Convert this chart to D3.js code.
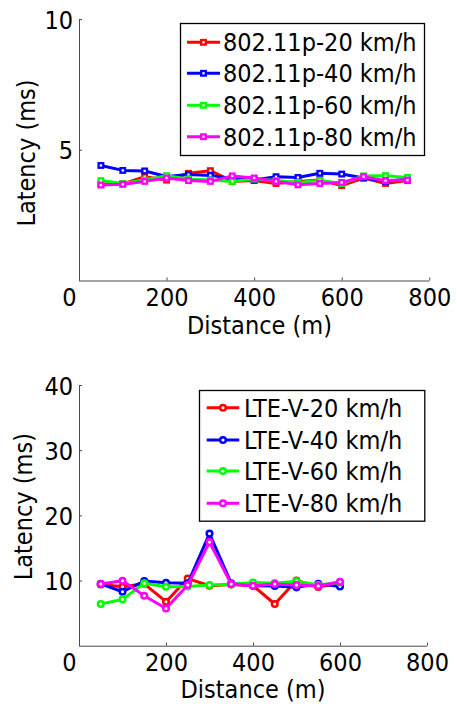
<!DOCTYPE html>
<html>
<head>
<meta charset="utf-8">
<script src="https://cdn.jsdelivr.net/npm/d3@7"></script>
<style>
  html, body { margin: 0; padding: 0; background: #fff; }
  svg text { font-family: "DejaVu Sans Condensed", "DejaVu Sans", sans-serif; font-stretch: condensed; fill: #000; }
</style>
</head>
<body>
<svg id="fig" width="457" height="704"></svg>
<script>
// ---- 802.11p latency vs distance ----
const distP = [50, 100, 150, 200, 250, 300, 350, 400, 450, 500, 550, 600, 650, 700, 750];
const p11_20 = [3.69, 3.69, 3.97, 3.84, 4.10, 4.20, 3.79, 3.82, 3.71, 3.79, 3.84, 3.63, 3.92, 3.71, 3.82];
const p11_40 = [4.40, 4.21, 4.19, 3.98, 4.05, 4.02, 3.90, 3.84, 3.97, 3.94, 4.10, 4.07, 3.92, 3.79, 3.88];
const p11_60 = [3.82, 3.71, 3.84, 4.01, 3.88, 3.84, 3.79, 3.88, 3.82, 3.75, 3.82, 3.71, 4.00, 4.01, 3.94];
const p11_80 = [3.65, 3.68, 3.79, 3.92, 3.82, 3.79, 4.00, 3.92, 3.79, 3.66, 3.71, 3.75, 3.97, 3.82, 3.84];
const labelsP = ["802.11p-20 km/h", "802.11p-40 km/h", "802.11p-60 km/h", "802.11p-80 km/h"];

// ---- LTE-V latency vs distance ----
const distL = [50, 100, 150, 200, 250, 300, 350, 400, 450, 500, 550, 600];
const lte_20 = [9.4, 9.05, 9.5, 6.75, 10.3, 9.2, 9.4, 9.2, 6.4, 10.0, 9.0, 9.6];
const lte_40 = [9.5, 8.28, 9.92, 9.67, 9.57, 17.2, 9.57, 9.2, 9.15, 8.95, 9.5, 9.1];
const lte_60 = [6.4, 7.11, 9.57, 9.05, 9.1, 9.3, 9.4, 9.7, 9.6, 9.9, 9.3, 9.7];
const lte_80 = [9.46, 9.97, 7.67, 5.7, 9.31, 15.9, 9.46, 9.2, 9.46, 9.3, 9.15, 9.82];
const labelsL = ["LTE-V-20 km/h", "LTE-V-40 km/h", "LTE-V-60 km/h", "LTE-V-80 km/h"];

// ---- shared axis ticks ----
const xTicks = [0, 200, 400, 600, 800];
const yTicksP = [5, 10];
const yTicksL = [10, 20, 30, 40];
const seriesColors = ["#ff0000", "#0000ff", "#00ff00", "#ff00ff"];

const svg = d3.select("#fig");
const FONT = 25;

function panel(opt) {
  const g = svg.append("g");
  const x = d3.scaleLinear().domain([0, 800]).range([opt.left, opt.right]);
  const y = d3.scaleLinear().domain(opt.yDomain).range([opt.bottom, opt.top]);

  // axes (ticks pointing inward, no box)
  const xAxis = g.append("g").attr("transform", `translate(0,${opt.bottom})`)
    .call(d3.axisBottom(x).tickValues(xTicks).tickSize(-3).tickPadding(8).tickFormat(d3.format("d")));
  const yAxis = g.append("g").attr("transform", `translate(${opt.left},0)`)
    .call(d3.axisLeft(y).tickValues(opt.yTicks).tickSize(-3).tickPadding(6).tickFormat(d3.format("d")));
  [xAxis, yAxis].forEach(a => {
    a.select(".domain").attr("stroke", "#4a4a4a").attr("stroke-width", 1);
    a.selectAll(".tick line").attr("stroke", "#4a4a4a");
    a.selectAll(".tick text").attr("font-size", FONT).attr("fill", "#000")
      .style("font-family", '"DejaVu Sans Condensed", "DejaVu Sans", sans-serif');
  });
  // plain axis lines without end caps
  xAxis.select(".domain").attr("d", `M${opt.left},0.5H${opt.right}`);
  yAxis.select(".domain").attr("d", `M0.5,${opt.top}V${opt.bottom}`);
  xAxis.selectAll(".tick text").attr("dy", "0.71em")
    .attr("dx", d => d === 0 ? -10 : 0);
  yAxis.selectAll(".tick text").attr("dy", "0.36em");

  // axis titles
  g.append("text").attr("x", opt.xTitleX).attr("y", opt.bottom + opt.xTitleDy)
    .attr("text-anchor", "middle").attr("font-size", FONT).text("Distance (m)");
  g.append("text")
    .attr("transform", `translate(${opt.yTitleX},${opt.yTitleY}) rotate(-90)`)
    .attr("text-anchor", "middle").attr("font-size", FONT).text("Latency (ms)");

  // series
  const line = d3.line().x((d, i) => x(opt.dist[i])).y(d => y(d));
  opt.series.forEach((vals, k) => {
    const s = g.append("g");
    s.append("path").attr("d", line(vals)).attr("fill", "none")
      .attr("stroke", seriesColors[k]).attr("stroke-width", 3).attr("stroke-linejoin", "round");
    drawMarkers(s, vals.map((v, i) => [x(opt.dist[i]), y(v)]), opt.marker, seriesColors[k]);
  });

  // legend
  const lg = g.append("g");
  lg.append("rect").attr("x", opt.legend.x0 + 0.5).attr("y", opt.legend.y0 + 0.5)
    .attr("width", opt.legend.x1 - opt.legend.x0).attr("height", opt.legend.y1 - opt.legend.y0)
    .attr("fill", "#fff").attr("stroke", "#000").attr("stroke-width", 1.3);
  opt.labels.forEach((lab, k) => {
    const cy = opt.legend.rows[k];
    lg.append("line").attr("x1", opt.legend.lx0).attr("x2", opt.legend.lx1)
      .attr("y1", cy).attr("y2", cy).attr("stroke", seriesColors[k]).attr("stroke-width", 3);
    drawMarkers(lg, [[(opt.legend.lx0 + opt.legend.lx1) / 2, cy]], opt.marker, seriesColors[k]);
    lg.append("text").attr("x", opt.legend.tx).attr("y", cy + 9)
      .attr("font-size", FONT).text(lab);
  });
}

function drawMarkers(sel, pts, kind, color) {
  if (kind === "square") {
    sel.selectAll(null).data(pts).enter().append("rect")
      .attr("x", d => d[0] - 2.3).attr("y", d => d[1] - 2.3)
      .attr("width", 4.6).attr("height", 4.6)
      .attr("fill", "#fff").attr("stroke", color).attr("stroke-width", 2.3);
  } else {
    sel.selectAll(null).data(pts).enter().append("circle")
      .attr("cx", d => d[0]).attr("cy", d => d[1]).attr("r", 2.8)
      .attr("fill", "#fff").attr("stroke", color).attr("stroke-width", 2.5);
  }
}

panel({
  left: 79, right: 429.3, top: 19, bottom: 280.5,
  yDomain: [0, 10], yTicks: yTicksP,
  dist: distP, series: [p11_20, p11_40, p11_60, p11_80], labels: labelsP,
  marker: "square",
  xTitleX: 259.5, xTitleDy: 53, yTitleX: 35, yTitleY: 153,
  legend: { x0: 180, x1: 424, y0: 23, y1: 155, rows: [42.3, 73.3, 105.3, 136.7], lx0: 187, lx1: 220, tx: 223 }
});

panel({
  left: 79, right: 427, top: 385, bottom: 645.7,
  yDomain: [0, 40], yTicks: yTicksL,
  dist: distL, series: [lte_20, lte_40, lte_60, lte_80], labels: labelsL,
  marker: "circle",
  xTitleX: 253, xTitleDy: 52.5, yTitleX: 31.5, yTitleY: 506.7,
  legend: { x0: 199, x1: 424.3, y0: 390, y1: 520.7, rows: [407.7, 440, 471, 503.3], lx0: 206.7, lx1: 239.3, tx: 244 }
});
</script>
</body>
</html>
